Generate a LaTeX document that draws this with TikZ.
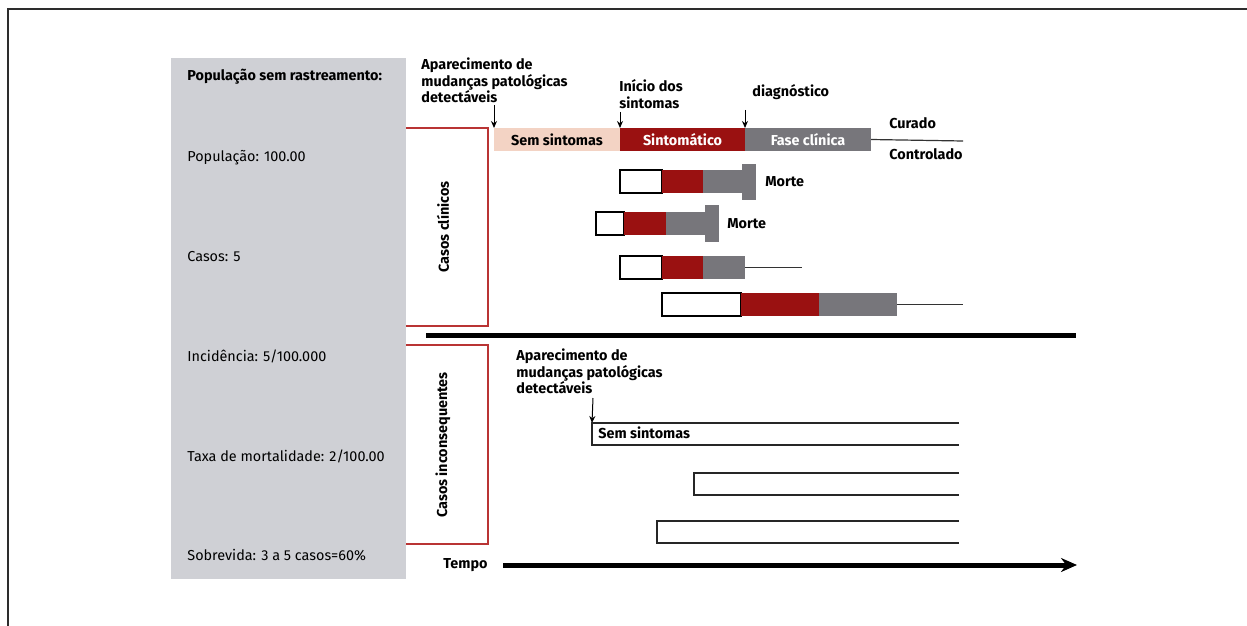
\documentclass[tikz,border=0pt]{standalone}
\usepackage{fontspec}
\setmainfont{Fira Sans}
\usetikzlibrary{positioning,arrows.meta}
\definecolor{panelgray}{RGB}{207,208,213}
\definecolor{peach}{RGB}{243,211,196}
\definecolor{sintred}{RGB}{154,17,17}
\definecolor{fasegray}{RGB}{119,118,123}
\definecolor{boxred}{RGB}{185,52,52}
\definecolor{framegray}{RGB}{45,45,45}

\begin{document}
\begin{tikzpicture}[x=0.5pt, y=-0.5pt,
    txt/.style={font=\fontsize{7.2}{8.4}\selectfont, inner sep=0pt, anchor=base west},
    lbl/.style={txt, font=\fontsize{7.2}{8.4}\selectfont\bfseries},
    note/.style={lbl, align=left, anchor=north west, font=\fontsize{7.2}{8.35}\selectfont\bfseries},
    side/.style={lbl, anchor=center, rotate=90},
    bar/.style={anchor=north west, inner sep=0pt, outer sep=0pt, minimum height=11.5pt, font=\fontsize{7.2}{8.4}\selectfont\bfseries},
    blank/.style={bar, draw=black, line width=0.6pt, fill=white},
    endcap/.style={bar, fill=fasegray, minimum width=7pt},
    tail/.style={line width=0.6pt, black!80},
    pointer/.style={->, >={Stealth[length=3.5pt, width=3pt]}, line width=0.5pt},
    openbox/.style={line width=0.6pt, black!85},
    caseframe/.style={line width=0.6pt, boxred}]
    \useasboundingbox (0,0) rectangle (1247,626);
    \draw[framegray, line width=0.6pt] (1247,9) -- (8,9) -- (8,626);

    \fill[panelgray] (171,58) rectangle (406,579);
    \node[lbl] (titulo) at (187,81) {População sem rastreamento:};
    \node[txt] (pop) at (187,162) {População: 100.00};
    \node[txt] (casos) at (187,261) {Casos: 5};
    \node[txt] (inc) at (187,361) {Incidência: 5/100.000};
    \node[txt] (mort) at (187,461) {Taxa de mortalidade: 2/100.00};
    \node[txt] (sobr) at (187,560) {Sobrevida: 3 a 5 casos=60\%};

    \draw[caseframe] (406,128) -| (488,326) -- (406,326);
    \draw[caseframe] (406,345) -| (488,544) -- (406,544);
    \node[side] (clin) at (443,227) {Casos clínicos};
    \node[side] (incons) at (443,445) {Casos inconsequentes};

    \node[note] (apar) at (421,57.5) {Aparecimento de\\mudanças patológicas\\detectáveis};
    \node[note] (inicio) at (619,79.5) {Início dos\\sintomas};
    \node[lbl] (diag) at (752,97) {diagnóstico};

    \node[bar, fill=peach, minimum width=63pt] (sem) at (494,128) {Sem sintomas};
    \node[bar, fill=sintred, text=white, minimum width=62.5pt, right=0pt of sem] (sint) {Sintomático};
    \node[bar, fill=fasegray, text=white, minimum width=63pt, right=0pt of sint] (fase) {Fase clínica};
    \coordinate (fim) at (963,141);
    \draw[tail] (fase.east) -- (fim);
    \node[lbl] (curado) at (889,128) {Curado};
    \node[lbl] (contr) at (889,160) {Controlado};

    \coordinate (p1) at (494,105);
    \coordinate (p2) at (620,112);
    \coordinate (p3) at (745,110);
    \draw[pointer] (p1) -- (sem.north west);
    \draw[pointer] (p2) -- (sint.north west);
    \draw[pointer] (p3) -- (fase.north west);

    \node[blank, minimum width=21pt] (w2) at (620,170) {};
    \node[bar, fill=sintred, minimum width=20.5pt, right=0pt of w2] (r2) {};
    \node[bar, fill=fasegray, minimum width=19.5pt, right=0pt of r2] (g2) {};
    \node[endcap, minimum height=18pt, right=0pt of g2] (c2) {};
    \node[lbl, anchor=west, right=4.5pt of c2] (morte2) {Morte};

    \node[blank, minimum width=14pt] (w3) at (596,212) {};
    \node[bar, fill=sintred, minimum width=21pt, right=0pt of w3] (r3) {};
    \node[bar, fill=fasegray, minimum width=19.5pt, right=0pt of r3] (g3) {};
    \node[endcap, minimum height=18.5pt, right=0pt of g3] (c3) {};
    \node[lbl, anchor=west, right=4pt of c3] (morte3) {Morte};

    \node[blank, minimum width=21pt] (w4) at (620,256) {};
    \node[bar, fill=sintred, minimum width=20.5pt, right=0pt of w4] (r4) {};
    \node[bar, fill=fasegray, minimum width=21pt, right=0pt of r4] (g4) {};
    \coordinate (fim4) at (802,267.5);
    \draw[tail] (g4.east) -- (fim4);

    \node[blank, minimum width=39.5pt] (w5) at (662,293) {};
    \node[bar, fill=sintred, minimum width=39pt, right=0pt of w5] (r5) {};
    \node[bar, fill=fasegray, minimum width=39pt, right=0pt of r5] (g5) {};
    \coordinate (fim5) at (963,304.5);
    \draw[tail] (g5.east) -- (fim5);

    \draw[line width=2.5pt] (426,335) -- (1076,335);

    \node[note] (apar2) at (516,348.5) {Aparecimento de\\mudanças patológicas\\detectáveis};
    \coordinate (p4) at (593,398);
    \coordinate (b1) at (592,423);
    \draw[pointer] (p4) -- (b1);
    \draw[openbox] (959,423) -- (b1) -- (592,445) -- (959,445);
    \node[lbl] (sem2) at (598,438) {Sem sintomas};
    \draw[openbox] (959,473) -| (694,495) -- (959,495);
    \draw[openbox] (959,521) -| (657,543) -- (959,543);

    \node[lbl] (tempo) at (443,568) {Tempo};
    \coordinate (t0) at (503,565);
    \coordinate (t1) at (1077,565);
    \draw[line width=2.5pt, -{Stealth[length=8pt, width=7pt]}] (t0) -- (t1);
\end{tikzpicture}
\end{document}
